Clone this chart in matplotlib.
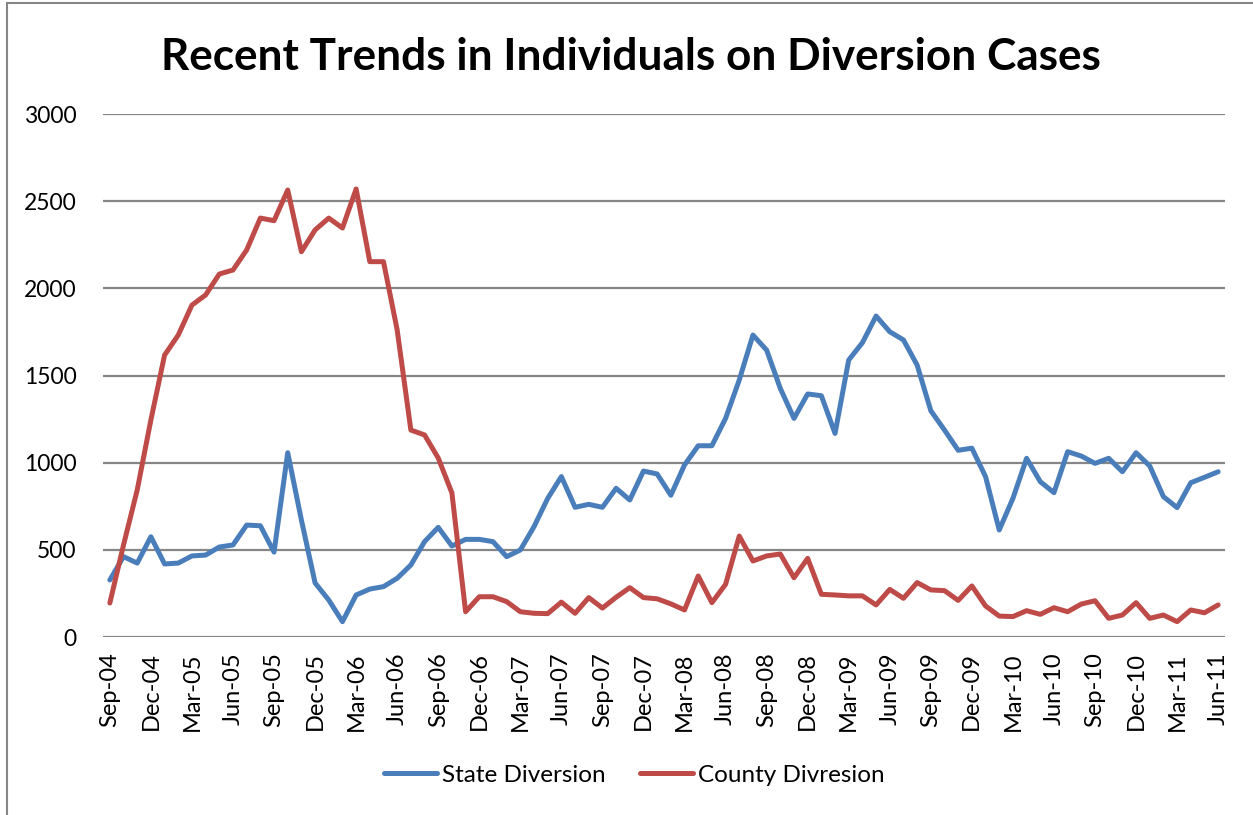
import matplotlib
matplotlib.use("Agg")
import matplotlib.pyplot as plt
from matplotlib.patches import Rectangle

plt.rcParams['font.family'] = ['Lato', 'DejaVu Sans']

# monthly, Sep-04 .. Jun-11
months = ['Sep', 'Oct', 'Nov', 'Dec', 'Jan', 'Feb', 'Mar', 'Apr', 'May', 'Jun', 'Jul', 'Aug']
start_year = 4
n_points = 82

state = [327, 461, 424, 575, 419, 424, 465, 470, 516, 528,
         642, 638, 487, 1057, 671, 310, 212, 88, 241, 275,
         289, 337, 413, 547, 629, 522, 560, 560, 547, 461,
         499, 633, 795, 920, 744, 761, 744, 853, 786, 952,
         935, 813, 987, 1097, 1097, 1254, 1474, 1732, 1646, 1426,
         1254, 1394, 1384, 1168, 1589, 1688, 1841, 1751, 1704, 1560,
         1298, 1187, 1071, 1083, 920, 614, 795, 1025, 891, 828,
         1063, 1038, 996, 1025, 948, 1057, 981, 805, 742, 885,
         916, 948]

county = [195, 528, 843, 1245, 1617, 1732, 1904, 1962, 2082, 2105,
          2220, 2403, 2388, 2564, 2210, 2335, 2403, 2346, 2570, 2153,
          2153, 1761, 1187, 1159, 1027, 826, 145, 231, 231, 203,
          145, 136, 134, 200, 136, 226, 166, 228, 283, 226,
          219, 190, 155, 350, 197, 302, 579, 436, 465, 476,
          340, 451, 245, 241, 236, 236, 184, 273, 222, 312,
          270, 266, 210, 293, 178, 120, 117, 151, 130, 168,
          145, 189, 208, 107, 126, 197, 107, 126, 88, 155,
          139, 184]

labels = ['%s-%02d' % (months[i % 12], start_year + (8 + i) // 12) for i in range(n_points)]

W, H = 1253, 815
fig = plt.figure(figsize=(W / 100, H / 100), dpi=100)

# chart border (only left and top edges visible in the crop)
fig.patches.append(Rectangle((7 / W, -0.1), 1.2, 1 - 3 / H + 0.1, transform=fig.transFigure,
                             fill=False, edgecolor='#868686', linewidth=1.5))

ax = fig.add_axes([103 / W, (H - 637) / H, 1122 / W, 523 / H])

x = list(range(n_points))
ax.plot(x, state, color='#4A7EBB', lw=3.6, solid_joinstyle='round', solid_capstyle='round',
        label='State Diversion', zorder=3)
ax.plot(x, county, color='#BE4B48', lw=3.6, solid_joinstyle='round', solid_capstyle='round',
        label='County Divresion', zorder=3)

ax.set_xlim(-0.5, n_points - 0.5)
ax.set_ylim(0, 3000)
ax.set_yticks(range(0, 3001, 500))
ax.set_xticks(x[::3])
ax.set_xticklabels(labels[::3], rotation=90)
ax.grid(axis='y', color='#868686', lw=1.6)
ax.set_axisbelow(True)
for s in ax.spines.values():
    s.set_visible(False)
ax.tick_params(axis='both', length=0, labelsize=16.5)
ax.tick_params(axis='y', pad=19)
ax.tick_params(axis='x', labelsize=17, pad=11)

fig.text(631 / W, 1 - 57 / H, 'Recent Trends in Individuals on Diversion Cases',
         ha='center', va='center', fontsize=31.8, fontweight='bold')

fig.legend(loc='center', bbox_to_anchor=(634 / W, 1 - 775 / H), ncol=2, frameon=False,
           fontsize=17.5, handlelength=2.2, handletextpad=0.2, columnspacing=1.4)

fig.savefig('out.png', dpi=100)
